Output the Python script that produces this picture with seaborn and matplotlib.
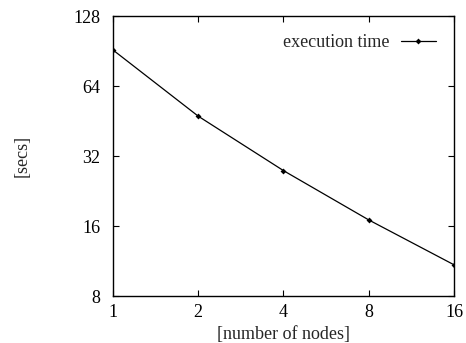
import matplotlib
matplotlib.use("Agg")
import matplotlib.pyplot as plt
import seaborn as sns
import pandas as pd
from matplotlib.ticker import FixedLocator, FixedFormatter, NullLocator

# data
nodes = [1, 2, 4, 8, 16]
secs = [91.5, 47.5, 27.7, 17.0, 10.9]
x_ticks = [1, 2, 4, 8, 16]
y_ticks = [8, 16, 32, 64, 128]

sns.set_style("ticks")
plt.rcParams["font.family"] = ["Liberation Serif", "DejaVu Serif"]
plt.rcParams["font.size"] = 13

df = pd.DataFrame({"nodes": nodes, "secs": secs})

fig = plt.figure(figsize=(4.66, 3.43), dpi=100)
ax = fig.add_axes([0.2425, 0.137, 0.7317, 0.816])

sns.lineplot(data=df, x="nodes", y="secs", ax=ax, color="black", linewidth=0.9,
             marker="D", markersize=3, markeredgewidth=0, label="execution time")

ax.set_xscale("log", base=2)
ax.set_yscale("log", base=2)
ax.set_xlim(1, 16)
ax.set_ylim(8, 128)
ax.xaxis.set_major_locator(FixedLocator(x_ticks))
ax.xaxis.set_major_formatter(FixedFormatter([str(v) for v in x_ticks]))
ax.yaxis.set_major_locator(FixedLocator(y_ticks))
ax.yaxis.set_major_formatter(FixedFormatter([str(v) for v in y_ticks]))
ax.xaxis.set_minor_locator(NullLocator())
ax.yaxis.set_minor_locator(NullLocator())

ax.tick_params(direction="in", length=4, width=0.8, top=True, right=True,
               labelsize=13, colors="black")
ax.tick_params(axis="x", pad=6)
ax.tick_params(axis="y", pad=9)
for s in ax.spines.values():
    s.set_linewidth(1.0)
    s.set_color("black")

ax.set_xlabel("[number of nodes]", fontsize=13, labelpad=3)
ax.set_ylabel("[secs]", fontsize=13, labelpad=31)

leg = ax.legend(loc="upper right", frameon=False, markerfirst=False,
                handlelength=1.95, handletextpad=0.6, fontsize=13,
                borderaxespad=0.6)

fig.savefig("out.png", dpi=100)
